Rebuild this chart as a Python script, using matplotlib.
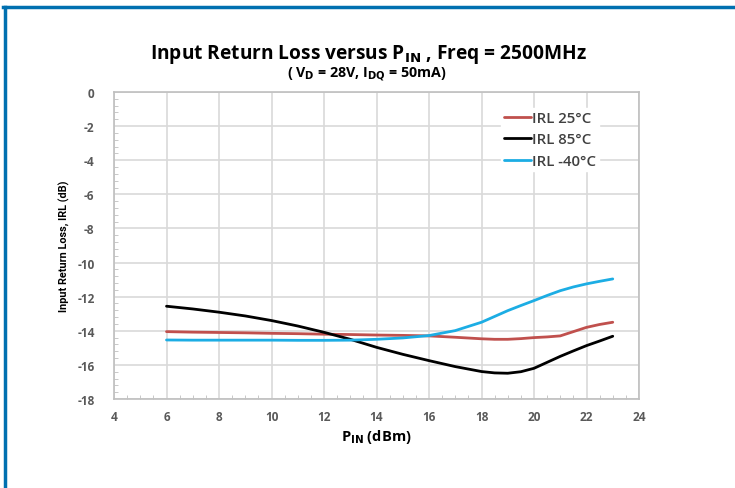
import matplotlib
matplotlib.use("Agg")
import matplotlib.pyplot as plt
from matplotlib.lines import Line2D
from matplotlib.ticker import MultipleLocator

pin = [6, 7, 8, 9, 10, 11, 12, 13, 14, 15, 16, 17, 18, 18.5, 19, 19.5, 20, 20.5, 21, 21.5, 22, 22.5, 23]
irl_25 = [-14.05, -14.08, -14.1, -14.12, -14.15, -14.17, -14.2, -14.22, -14.25, -14.27, -14.3, -14.38, -14.47, -14.5, -14.5, -14.46, -14.4, -14.36, -14.3, -14.05, -13.8, -13.63, -13.5]
irl_85 = [-12.56, -12.72, -12.91, -13.13, -13.4, -13.72, -14.09, -14.5, -14.97, -15.38, -15.75, -16.1, -16.39, -16.47, -16.49, -16.4, -16.2, -15.85, -15.5, -15.18, -14.87, -14.6, -14.32]
irl_m40 = [-14.54, -14.55, -14.55, -14.55, -14.55, -14.56, -14.56, -14.55, -14.5, -14.42, -14.28, -13.99, -13.5, -13.16, -12.82, -12.52, -12.23, -11.93, -11.65, -11.43, -11.25, -11.1, -10.96]

labels = ["IRL 25°C", "IRL 85°C", "IRL -40°C"]
colors = ["#C0504D", "#000000", "#1CADE4"]

fam = ["Open Sans", "DejaVu Sans"]
plt.rcParams["font.family"] = fam
plt.rcParams["axes.unicode_minus"] = False

fig = plt.figure(figsize=(7.35, 4.89), dpi=100)
ax = fig.add_axes([114/735, 1-400/489, (639-114)/735, (400-93)/489])

for y, lab, c in zip([irl_25, irl_85, irl_m40], labels, colors):
    ax.plot(pin, y, color=c, lw=2, label=lab, solid_capstyle="round")

ax.set_xlim(4, 24)
ax.set_ylim(-18, 0)
ax.xaxis.set_major_locator(MultipleLocator(2))
ax.yaxis.set_major_locator(MultipleLocator(2))
ax.xaxis.set_minor_locator(MultipleLocator(0.5))
ax.yaxis.set_minor_locator(MultipleLocator(0.4))
ax.grid(True, which="major", color="#D9D9D9", lw=1.2)
ax.set_axisbelow(True)
for s in ax.spines.values():
    s.set_color("#BFBFBF")
    s.set_linewidth(1.2)
ax.tick_params(axis="y", which="major", length=0, pad=14, labelsize=8.5, labelcolor="#595959")
ax.tick_params(axis="x", which="major", length=0, pad=8, labelsize=8.5, labelcolor="#595959")
ax.tick_params(which="minor", direction="in", length=3, color="#BFBFBF")
for t in ax.get_xticklabels() + ax.get_yticklabels():
    t.set_fontweight("bold")

ax.set_xlabel(r"P$_{\mathbf{IN}}$ (dBm)", fontsize=10.5, fontweight="bold", labelpad=3)
ax.set_ylabel("Input Return Loss, IRL (dB)", fontsize=7.8,
              family=["Roboto", "DejaVu Sans"], fontweight="bold", labelpad=5)

fig.text(368/735, 1-55/489, r"Input Return Loss versus P$_{\mathbf{IN}}$ , Freq = 2500MHz",
         ha="center", va="center", fontsize=13.8, fontweight="bold")
fig.text(367/735, 1-74/489, r"( V$_{\mathbf{D}}$ = 28V, I$_{\mathbf{DQ}}$ = 50mA)",
         ha="center", va="center", fontsize=10.3, fontweight="bold")

leg = ax.legend(loc="upper left", bbox_to_anchor=(0.737, 0.948), frameon=True, framealpha=1,
                edgecolor="white", fontsize=10.8, handlelength=1.8, handletextpad=0.1,
                labelspacing=0.5, borderpad=0.2, borderaxespad=0)
for t in leg.get_texts():
    t.set_color("#404040")
    t.set_fontweight("semibold")

# blue frame
fig.add_artist(Line2D([4.5/735, 4.5/735], [0, 1-7.5/489], color="#0070B0", lw=2.5))
fig.add_artist(Line2D([3/735, 1], [1-7.5/489, 1-7.5/489], color="#0070B0", lw=2.5))

fig.savefig("out.png", dpi=100)
